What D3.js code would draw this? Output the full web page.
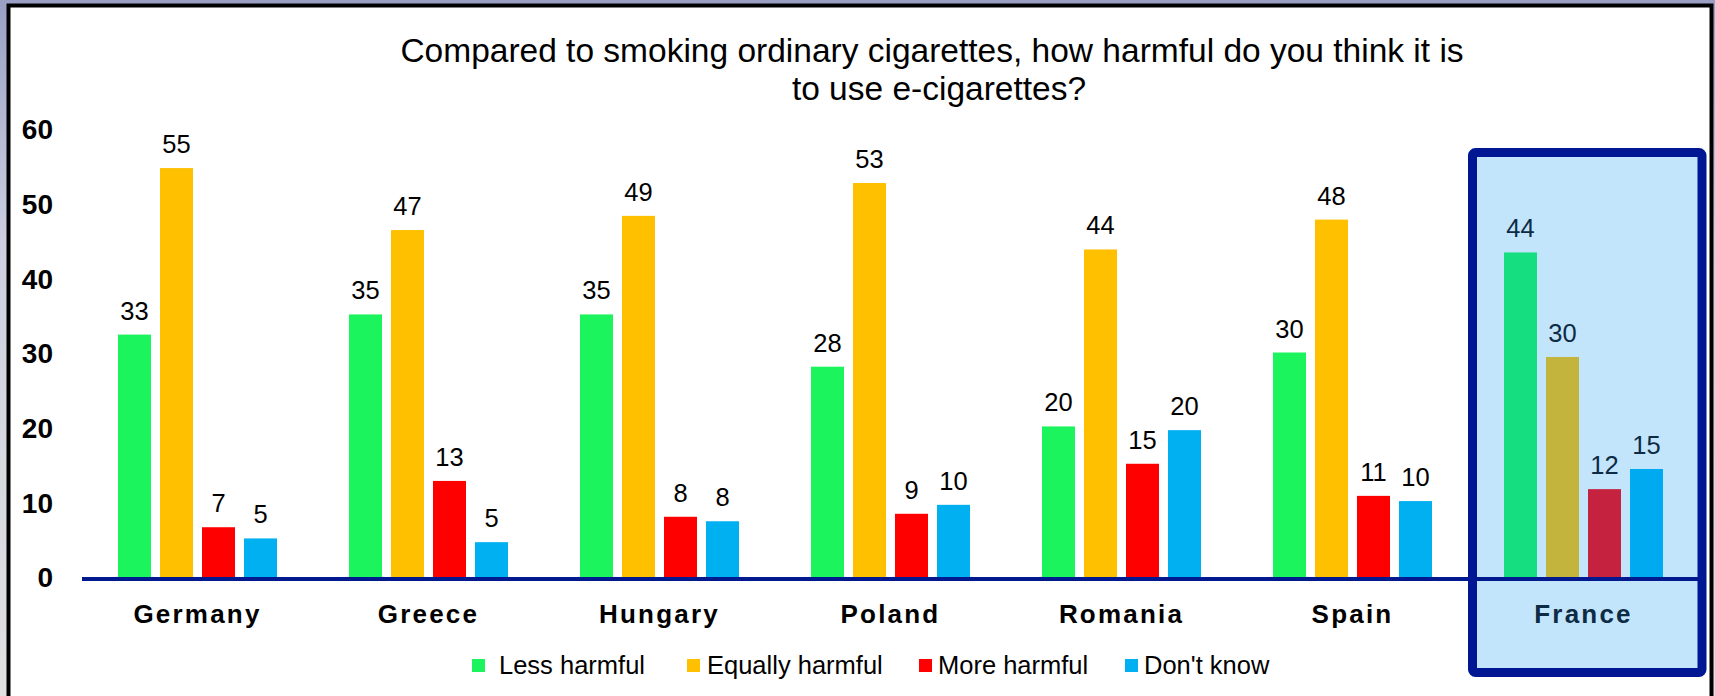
<!DOCTYPE html>
<html>
<head>
<meta charset="utf-8">
<script src="https://cdn.jsdelivr.net/npm/d3@7"></script>
<style>
  html, body { margin: 0; padding: 0; background: #fff; }
  svg { display: block; font-family: "Liberation Sans", Arial, sans-serif; }
</style>
</head>
<body>
<div id="chart"></div>
<script>
// data
const countries = ["Germany", "Greece", "Hungary", "Poland", "Romania", "Spain", "France"]
const seriesNames = ["Less harmful", "Equally harmful", "More harmful", "Don't know"]
const lessHarmful = [32.6, 35.3, 35.3, 28.3, 20.3, 30.2, 43.6]
const equallyHarmful = [54.9, 46.6, 48.5, 52.9, 44.0, 48.0, 29.6]
const moreHarmful = [6.8, 13.0, 8.2, 8.6, 15.3, 11.0, 11.9]
const dontKnow = [5.3, 4.8, 7.6, 9.8, 19.8, 10.3, 14.6]
const yTicks = [0, 10, 20, 30, 40, 50, 60]
const titleLines = ["Compared to smoking ordinary cigarettes, how harmful do you think it is", "to use e-cigarettes?"]
const highlighted = "France"

const colors = ["#1cf45d", "#ffc000", "#ff0000", "#00b0f0"]
const highlightColors = ["#14de80", "#c2b43c", "#c4223e", "#00aaf0"]

const width = 1715, height = 696
const seriesValues = [lessHarmful, equallyHarmful, moreHarmful, dontKnow]
const rows = countries.map((c, i) => ({
  country: c,
  values: seriesNames.map((s, j) => ({ series: s, idx: j, value: seriesValues[j][i], country: c }))
}))

const svg = d3.select("#chart").append("svg")
  .attr("width", width)
  .attr("height", height)

// slide-like background and frame
const defs = svg.append("defs")
const grad = defs.append("linearGradient").attr("id", "bg").attr("x1", 0).attr("y1", 0).attr("x2", 0).attr("y2", 1)
grad.append("stop").attr("offset", "0%").attr("stop-color", "#9aa0c4")
grad.append("stop").attr("offset", "35%").attr("stop-color", "#ced0e0")
grad.append("stop").attr("offset", "100%").attr("stop-color", "#e0e0e0")
svg.append("rect").attr("width", width).attr("height", height).attr("fill", "url(#bg)")
svg.append("rect")
  .attr("x", 8.5).attr("y", 5.5)
  .attr("width", 1703).attr("height", 740)
  .attr("fill", "#fff")
  .attr("stroke", "#000")
  .attr("stroke-width", 4)

const x = d3.scaleBand().domain(countries).range([82, 1699])
const x1 = d3.scaleBand().domain(seriesNames).range([31.5, 199.5]).paddingInner(9 / 42).paddingOuter(4.5 / 42)
const y = d3.scaleLinear().domain([0, 60]).range([578, 130])

// title, two lines
const titleX = [932, 939]
const titleY = [62, 100]
svg.append("g").selectAll("text")
  .data(titleLines)
  .join("text")
  .attr("x", (d, i) => titleX[i])
  .attr("y", (d, i) => titleY[i])
  .attr("text-anchor", "middle")
  .attr("font-size", 33.5)
  .attr("fill", "#000")
  .text(d => d)

// highlight box behind France
const hx = x(highlighted)
svg.append("rect")
  .attr("x", hx + 4.5).attr("y", 152.5)
  .attr("width", x.bandwidth() - 1.5).attr("height", 520)
  .attr("rx", 3)
  .attr("fill", "#c3e5fb")

// y axis labels
const yAxis = svg.append("g")
  .attr("transform", "translate(53,0)")
  .call(d3.axisLeft(y).tickValues(yTicks).tickSize(0).tickPadding(0))
yAxis.select(".domain").remove()
yAxis.selectAll("text")
  .attr("font-family", "Liberation Sans, Arial, sans-serif")
  .attr("font-size", 28)
  .attr("font-weight", "bold")
  .attr("fill", "#000")

const groups = svg.append("g").selectAll("g")
  .data(rows)
  .join("g")
  .attr("transform", d => `translate(${x(d.country)},0)`)

groups.selectAll("rect")
  .data(d => d.values)
  .join("rect")
  .attr("x", d => x1(d.series))
  .attr("y", d => y(d.value))
  .attr("width", x1.bandwidth())
  .attr("height", d => y(0) - y(d.value))
  .attr("fill", d => d.country === highlighted ? highlightColors[d.idx] : colors[d.idx])

groups.selectAll("text.val")
  .data(d => d.values)
  .join("text")
  .attr("class", "val")
  .attr("x", d => x1(d.series) + x1.bandwidth() / 2)
  .attr("y", d => y(d.value) - 15)
  .attr("text-anchor", "middle")
  .attr("font-size", 25.5)
  .attr("fill", d => d.country === highlighted ? "#0d2b45" : "#000")
  .text(d => d3.format(".0f")(d.value))

// baseline
svg.append("line")
  .attr("x1", x.range()[0]).attr("x2", x.range()[1])
  .attr("y1", y(0) + 1).attr("y2", y(0) + 1)
  .attr("stroke", "#00198f")
  .attr("stroke-width", 4)

// highlight box border
svg.append("rect")
  .attr("x", hx + 4.5).attr("y", 152.5)
  .attr("width", x.bandwidth() - 1.5).attr("height", 520)
  .attr("rx", 3)
  .attr("fill", "none")
  .attr("stroke", "#001794")
  .attr("stroke-width", 9)

// category labels
svg.append("g").selectAll("text")
  .data(countries)
  .join("text")
  .attr("x", d => x(d) + x.bandwidth() / 2)
  .attr("y", 623)
  .attr("text-anchor", "middle")
  .attr("font-size", 26)
  .attr("font-weight", "bold")
  .attr("letter-spacing", 2.2)
  .attr("fill", d => d === highlighted ? "#0d2b45" : "#000")
  .text(d => d)

// legend
const legendX = [472, 687, 919, 1125]
const legendGap = [27, 20, 19, 19]
const legend = svg.append("g").selectAll("g")
  .data(seriesNames)
  .join("g")
  .attr("transform", (d, i) => `translate(${legendX[i]},659)`)
legend.append("rect")
  .attr("width", 13).attr("height", 13)
  .attr("fill", (d, i) => colors[i])
legend.append("text")
  .attr("x", (d, i) => legendGap[i])
  .attr("y", 15)
  .attr("font-size", 25.5)
  .attr("fill", "#000")
  .text(d => d)
</script>
</body>
</html>
